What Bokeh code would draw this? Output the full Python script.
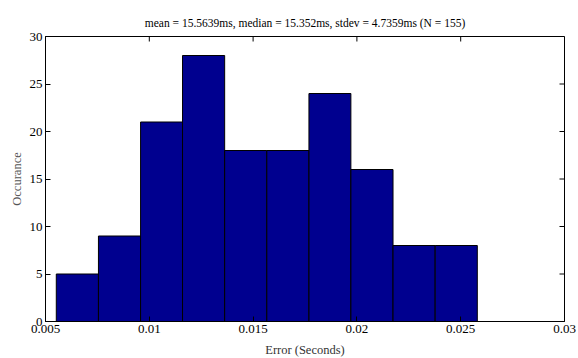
import math
from bokeh.plotting import figure
from bokeh.models import FixedTicker, Range1d
from bokeh.embed import file_html
from bokeh.resources import INLINE

counts = [5, 9, 21, 28, 18, 18, 24, 16, 8, 8]
bin_edges = [0.00552, 0.00755, 0.00958, 0.01160, 0.01363, 0.01566,
             0.01769, 0.01971, 0.02174, 0.02377, 0.02580]
x_ticks = [0.005, 0.01, 0.015, 0.02, 0.025, 0.03]
x_tick_labels = ["0.005", "0.01", "0.015", "0.02", "0.025", "0.03"]
y_ticks = [0, 5, 10, 15, 20, 25, 30]
x_lim = (0.005, 0.03)
y_lim = (0, 30)
title_text = "mean = 15.5639ms, median = 15.352ms, stdev = 4.7359ms (N = 155)"
x_label = "Error (Seconds)"
y_label = "Occurance"

FONT = "Liberation Serif"

p = figure(frame_width=519, frame_height=285,
           x_range=Range1d(*x_lim), y_range=Range1d(*y_lim),
           output_backend="svg", toolbar_location=None,
           min_border_left=45, min_border_right=14,
           min_border_top=36, min_border_bottom=37)

p.title.text = title_text
p.title.text_font = FONT
p.title.text_font_size = "11.5px"
p.title.text_font_style = "normal"
p.title.align = "center"
p.title.text_color = "black"
p.title.standoff = 16

p.quad(left=bin_edges[:-1], right=bin_edges[1:], bottom=0, top=counts,
       fill_color="#00008F", line_color="black", line_width=1)

# tick marks on the top and right edges of the box (MATLAB style)
p.ray(x=x_ticks, y=[y_lim[1]] * len(x_ticks), length=5, length_units="screen",
      angle=-math.pi / 2, line_color="black", line_width=1)
p.ray(x=[x_lim[1]] * len(y_ticks), y=y_ticks, length=5, length_units="screen",
      angle=math.pi, line_color="black", line_width=1)

p.xgrid.visible = False
p.ygrid.visible = False
p.outline_line_color = "black"
p.outline_line_width = 1
p.background_fill_color = "white"
p.border_fill_color = "white"

def style_axis(ax, ticks):
    ax.ticker = FixedTicker(ticks=ticks)
    ax.major_tick_in = 5
    ax.major_tick_out = 0
    ax.minor_tick_in = 0
    ax.minor_tick_out = 0
    ax.axis_line_color = "black"
    ax.major_tick_line_color = "black"
    ax.major_label_text_font = FONT
    ax.major_label_text_color = "black"
    ax.major_label_text_font_size = "13px"
    ax.major_label_standoff = 3
    ax.axis_label_text_font = FONT
    ax.axis_label_text_font_style = "normal"
    ax.axis_label_text_font_size = "12.5px"
    ax.axis_label_text_color = "#333333"
    ax.axis_label_standoff = 3

xa = p.xaxis[0]
style_axis(xa, x_ticks)
xa.major_label_overrides = {t: l for t, l in zip(x_ticks, x_tick_labels)}
xa.axis_label = x_label
xa.axis_label_standoff = 7

ya = p.yaxis[0]
style_axis(ya, y_ticks)
ya.axis_label = y_label
ya.axis_label_text_color = "#555555"

open("out.html", "w").write(file_html(p, INLINE))
